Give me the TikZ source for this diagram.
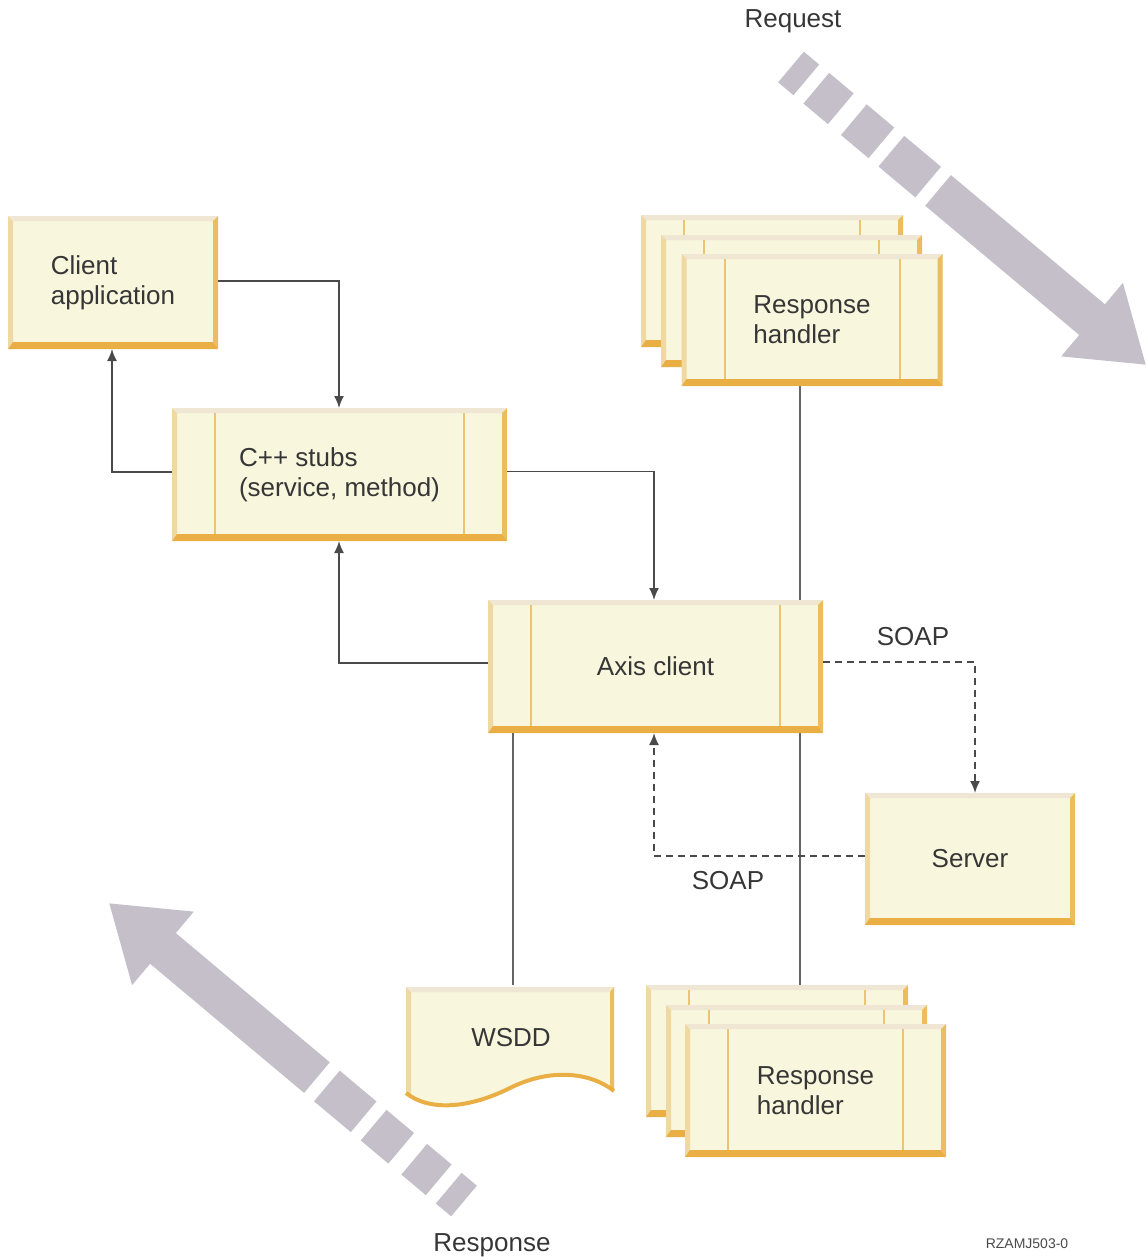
\documentclass[tikz,border=0pt]{standalone}
\usepackage{fontspec}
\setmainfont{Liberation Sans}
\usetikzlibrary{arrows.meta,backgrounds,calc}
\definecolor{boxfill}{HTML}{F8F6DC}
\definecolor{bevT}{HTML}{EFE6D3}
\definecolor{bevL}{HTML}{F0D8A2}
\definecolor{bevR}{HTML}{EBBD5E}
\definecolor{bevB}{HTML}{E9AF45}
\definecolor{inl}{HTML}{EDC375}
\definecolor{txt}{HTML}{363636}
\definecolor{conncol}{HTML}{4A4A4A}
\definecolor{bigcol}{HTML}{C5BFC9}

\newcommand\mybevel{%
  \coordinate (NW) at (path picture bounding box.north west);
  \coordinate (NE) at (path picture bounding box.north east);
  \coordinate (SW) at (path picture bounding box.south west);
  \coordinate (SE) at (path picture bounding box.south east);
  \fill[bevT] (NW) -- (NE) -- ([shift={(-5pt,-5pt)}]NE) -- ([shift={(5pt,-5pt)}]NW) -- cycle;
  \fill[bevL] (NW) -- ([shift={(5pt,-5pt)}]NW) -- ([shift={(5pt,7pt)}]SW) -- (SW) -- cycle;
  \fill[bevR] (NE) -- (SE) -- ([shift={(-5pt,7pt)}]SE) -- ([shift={(-5pt,-5pt)}]NE) -- cycle;
  \fill[bevB] (SW) -- (SE) -- ([shift={(-5pt,7pt)}]SE) -- ([shift={(5pt,7pt)}]SW) -- cycle;
}
\newcommand\myinner{%
  \draw[inl, line width=2pt] ([shift={(43pt,-5pt)}]NW) -- ([shift={(43pt,7pt)}]SW);
  \draw[inl, line width=2pt] ([shift={(-43pt,-5pt)}]NE) -- ([shift={(-43pt,7pt)}]SE);
}
\newcommand\mybigarrow[3]{%
  \begin{scope}[shift={(#1,#2)},rotate=#3]
    \fill[bigcol] (0,-20) rectangle (20,20);
    \fill[bigcol] (33,-20) rectangle (65,20);
    \fill[bigcol] (82,-20) rectangle (118,20);
    \fill[bigcol] (131,-20) rectangle (179,20);
    \fill[bigcol] (192,-20) -- (393,-20) -- (393,-48) -- (463,0) -- (393,48) -- (393,20) -- (192,20) -- cycle;
  \end{scope}%
}

\tikzset{
  bevel/.style={fill=boxfill, draw=none, inner sep=0pt, outer sep=0pt,
    text=txt, align=left, path picture={\mybevel}},
  tbox/.style={fill=boxfill, draw=none, inner sep=0pt, outer sep=0pt,
    text=txt, align=left, path picture={\mybevel\myinner}},
  conn/.style={draw=conncol, line width=1.7pt, -{Latex[length=12pt,width=10pt]}},
  soap/.style={conn, dash pattern=on 7pt off 5pt},
  plain/.style={draw=conncol!85, line width=1.7pt},
  lbl/.style={text=txt, inner sep=0pt},
}

\begin{document}
\begin{tikzpicture}[x=1pt,y=-1pt,font=\fontsize{26}{30}\selectfont]
\useasboundingbox (0,0) rectangle (1146,1260);

% big arrows
\mybigarrow{791}{67}{-40}
\mybigarrow{464}{1201}{140}

% helper x positions
\coordinate (cA) at (339,0);
\coordinate (cB) at (112,0);
\coordinate (cC) at (654,0);
\coordinate (cD) at (975,0);
\coordinate (vx) at (800,0);
\coordinate (wx) at (513,0);

% boxes
\node[bevel, minimum width=210pt, minimum height=133pt] (client) at (113,282.5) {Client\\application};
\node[tbox, minimum width=335pt, minimum height=133pt] (stubs) at (339.5,474.5) {C++ stubs\\(service, method)};
\node[tbox, minimum width=335pt, minimum height=133pt] (axis) at (655.5,666.5) {Axis client};
\node[bevel, minimum width=210pt, minimum height=132pt] (server) at (970,859) {Server};

\node[tbox, minimum width=262pt, minimum height=132pt] (rh1a) at (772,281) {};
\node[tbox, minimum width=261pt, minimum height=132pt] (rh1b) at (791.5,301) {};
\node[tbox, minimum width=261pt, minimum height=132pt] (rh1c) at (812,320) {Response\\handler};

\node[tbox, minimum width=262pt, minimum height=132pt] (rh2a) at (777,1051) {};
\node[tbox, minimum width=261pt, minimum height=132pt] (rh2b) at (796.5,1071) {};
\node[tbox, minimum width=261pt, minimum height=133pt] (rh2c) at (815.5,1090.5) {Response\\handler};

% WSDD document shape
\fill[boxfill] (406,987) -- (614,987) -- (614,1091)
  .. controls (590,1072) and (550,1068) .. (510,1088)
  .. controls (470,1108) and (430,1112) .. (406,1093) -- cycle;
\fill[bevT] (406,987) -- (614,987) -- (609,992) -- (411,992) -- cycle;
\fill[bevL] (406,987) -- (411,992) -- (411,1097) -- (406,1093) -- cycle;
\fill[bevR] (614,987) -- (614,1091) -- (610,1088) -- (610,992) -- cycle;
\draw[bevB, line width=4pt] (614,1091)
  .. controls (590,1072) and (550,1068) .. (510,1088)
  .. controls (470,1108) and (430,1112) .. (406,1093);
\node[lbl, minimum width=208pt, minimum height=106pt] (wsdd) at (511,1038) {WSDD};

% connectors
\draw[conn] ([yshift=1.5pt]client.east) -| (stubs.north -| cA);
\draw[conn] ([yshift=2.5pt]stubs.west) -| (client.south -| cB);
\draw[conn] ([yshift=3pt]stubs.east) -| (axis.north -| cC);
\draw[conn] ([yshift=3.5pt]axis.west) -| (stubs.south -| cA);
\draw[soap] ([yshift=4.5pt]axis.east) -| (server.north -| cD);
\draw[soap] ([yshift=3pt]server.west) -| (axis.south -| cC);
\draw[plain] (axis.south -| wx) -- (wsdd.north -| wx);
\begin{pgfonlayer}{background}
\draw[plain] (rh1c.south -| vx) -- (rh2a.north -| vx);
\end{pgfonlayer}

% labels
\node[lbl] (req) at (793,21) {Request};
\node[lbl] (resp) at (492,1245) {Response};
\node[lbl] (soap1) at (913,637) {SOAP};
\node[lbl] (soap2) at (728,881) {SOAP};
\node[lbl, text=conncol, font=\fontsize{14}{16}\selectfont] (code) at (1027,1244) {RZAMJ503-0};
\end{tikzpicture}
\end{document}
